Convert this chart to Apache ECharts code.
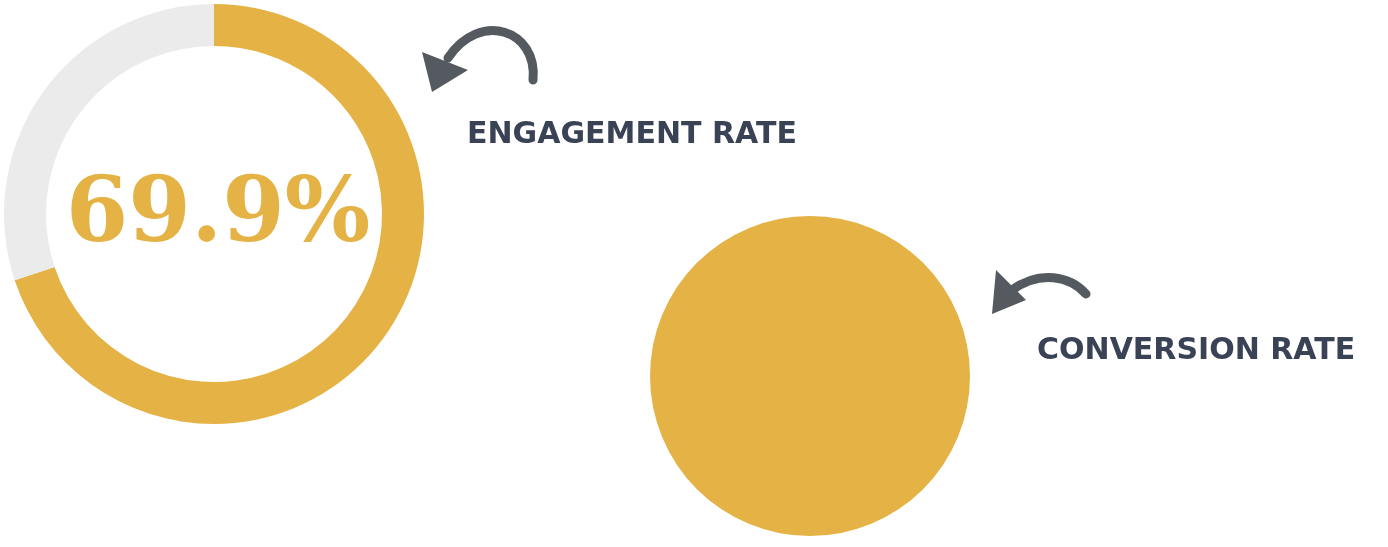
<!DOCTYPE html>
<html><head><meta charset="utf-8">
<script src="https://cdn.jsdelivr.net/npm/echarts@6/dist/echarts.min.js"></script>
<style>html,body{margin:0;background:#fff}#c{width:1388px;height:547px}</style>
</head><body><div id="c"></div>
<script>
const metricNames = ['ENGAGEMENT RATE', 'CONVERSION RATE'];
const metricValues = [69.9, 6.0];
const gold = '#E5B245', grey = '#EBEBEB', ink = '#3A4255', arrow = '#555a60';
const chart = echarts.init(document.getElementById('c'));
chart.setOption({
  animation:false,
  series:[
    {type:'pie', center:[214,214], radius:[168,210], startAngle:90, clockwise:true, silent:true, label:{show:false},
     data:[{value:metricValues[0], itemStyle:{color:gold}}, {value:100-metricValues[0], itemStyle:{color:grey}}]},
    {type:'pie', center:[810,376], radius:[0,160], silent:true, label:{show:false},
     data:[{value:metricValues[1], itemStyle:{color:gold}}]}
  ],
  graphic:[
    {type:'text', x:218, y:218, style:{text:metricValues[0].toFixed(1)+'%', fill:gold, font:'bold 90px "DejaVu Serif", serif', align:'center', verticalAlign:'middle'}},
    {type:'text', x:814, y:380, style:{text:metricValues[1].toFixed(1)+'%', fill:'#fff', font:'bold 90px "DejaVu Serif", serif', align:'center', verticalAlign:'middle'}},
    {type:'text', x:467, y:135, style:{text:metricNames[0], fill:ink, font:'bold 30px "DejaVu Sans", sans-serif', verticalAlign:'middle'}},
    {type:'text', x:1037, y:351, style:{text:metricNames[1], fill:ink, font:'bold 30px "DejaVu Sans", sans-serif', verticalAlign:'middle'}},
    {type:'bezierCurve', shape:{x1:533,y1:80,cpx1:538,cpy1:30,cpx2:480,cpy2:10,x2:448,y2:58}, style:{stroke:arrow, lineWidth:9, fill:null, lineCap:'round'}},
    {type:'polygon', shape:{points:[[422,52],[432,92],[468,70]]}, style:{fill:arrow}},
    {type:'bezierCurve', shape:{x1:1086,y1:294,cpx1:1070,cpy1:276,cpx2:1040,cpy2:270,x2:1012,y2:290}, style:{stroke:arrow, lineWidth:9, fill:null, lineCap:'round'}},
    {type:'polygon', shape:{points:[[996,270],[992,314],[1026,300]]}, style:{fill:arrow}}
  ]
});
</script></body></html>
